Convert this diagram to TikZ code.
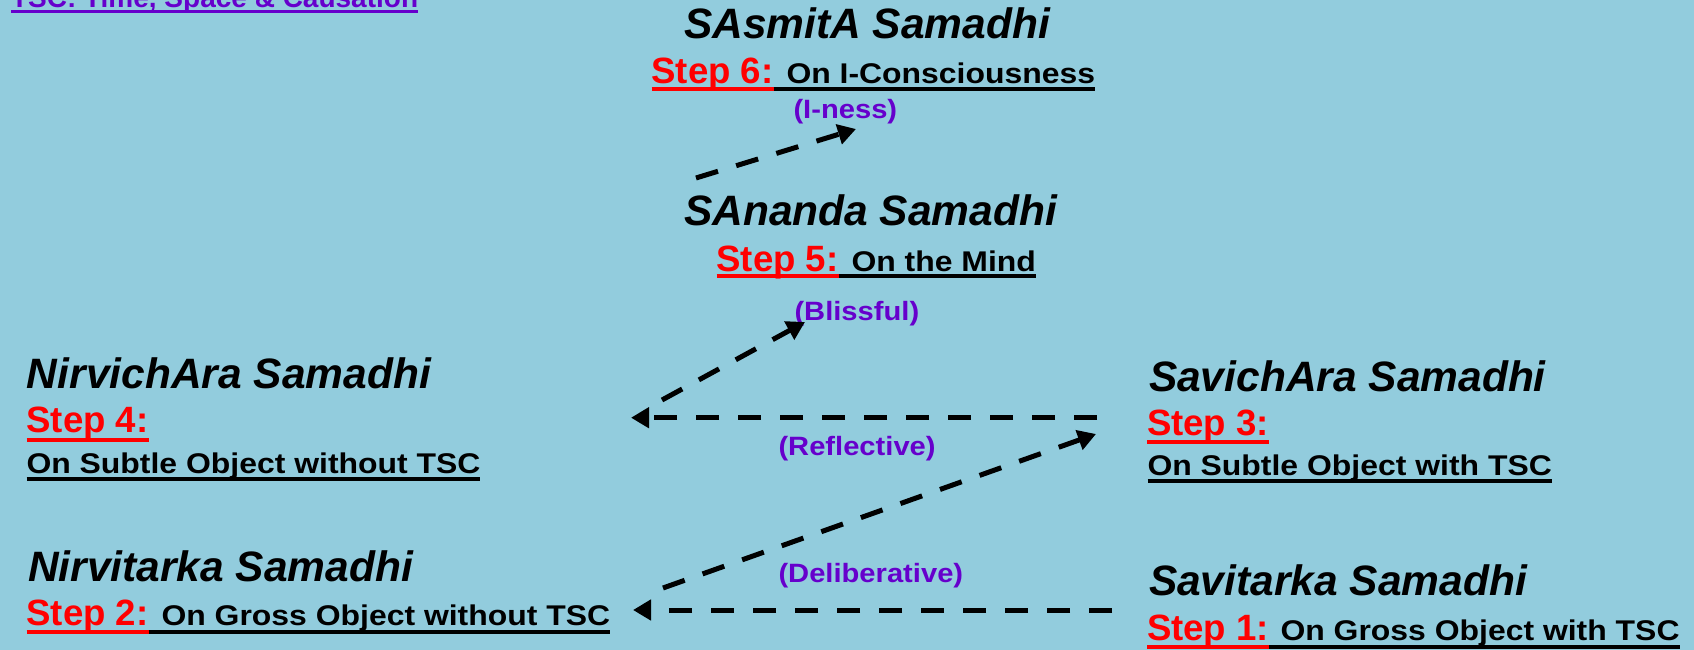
\documentclass[tikz,border=0pt]{standalone}
\usepackage{graphicx}
\usepackage{fontspec}
\setmainfont{Liberation Sans}
\usetikzlibrary{arrows.meta}
\definecolor{bgblue}{RGB}{146,204,221}
\definecolor{lblpurple}{RGB}{102,0,204}
\newcommand{\widetext}[1]{\scalebox{1.12}[1]{#1}}
\newcommand{\qualtext}[1]{\scalebox{1.1}[1]{#1}}
\tikzset{
  titletext/.style={anchor=base west, inner sep=0pt, outer sep=0pt, font=\fontsize{42.5}{50}\selectfont\bfseries\itshape},
  steptext/.style={anchor=base west, inner sep=0pt, outer sep=0pt, text=red, font=\fontsize{36.6}{44}\selectfont\bfseries},
  desctext/.style={anchor=base west, inner sep=0pt, outer sep=0pt, font=\fontsize{28.5}{34}\selectfont\bfseries},
  qualtxt/.style={anchor=base west, inner sep=0pt, outer sep=0pt, text=lblpurple, font=\fontsize{26.5}{32}\selectfont\bfseries},
  ulred/.style={draw=red, line width=4pt},
  ulblack/.style={draw=black, line width=4pt},
  flow/.style={draw=black, line width=5pt, dash pattern=on 23pt off 19pt, -{Triangle[length=18pt,width=20pt]}},
}
\begin{document}
\begin{tikzpicture}[x=1pt,y=-1pt]
\useasboundingbox (0,0) rectangle (1694,650);
\clip (0,0) rectangle (1694,650);
\fill[bgblue] (0,0) rectangle (1694,650);

% note at top left
\node[anchor=base west, inner sep=0pt, outer sep=0pt, text=lblpurple, font=\fontsize{28}{34}\selectfont\bfseries] (note) at (11,8) {TSC: Time, Space \& Causation};
\draw[draw=lblpurple, line width=3.3pt] ([yshift=-3.7pt]note.base west) -- ([yshift=-3.7pt]note.base east);

% Step 6
\node[titletext] (t6) at (684,39) {SAsmitA Samadhi};
\node[steptext] (s6) at (651.5,83.3) {Step 6:};
\node[desctext] (d6) at (786.5,83.3) {\widetext{On I-Consciousness}};
\draw[ulred] ([yshift=-6pt]s6.base west) -- ([yshift=-6pt]s6.base east);
\draw[ulblack] ([yshift=-6pt]s6.base east) -- ([yshift=-6pt]d6.base east);
\node[qualtxt] (q6) at (793.5,119) {\qualtext{(I-ness)}};

% Step 5
\node[titletext] (t5) at (684,225) {SAnanda Samadhi};
\node[steptext] (s5) at (716.5,271) {Step 5:};
\node[desctext] (d5) at (851.5,271) {\widetext{On the Mind}};
\draw[ulred] ([yshift=-5pt]s5.base west) -- ([yshift=-5pt]s5.base east);
\draw[ulblack] ([yshift=-5pt]s5.base east) -- ([yshift=-5pt]d5.base east);
\node[qualtxt] (q5) at (794.5,320) {\qualtext{(Blissful)}};

% Step 4
\node[titletext] (t4) at (27,388) {NirvichAra Samadhi};
\node[steptext] (s4) at (26.5,432.7) {Step 4:};
\draw[ulred] ([yshift=-7pt]s4.base west) -- ([yshift=-7pt]s4.base east);
\node[desctext] (d4) at (26.5,473) {\widetext{On Subtle Object without TSC}};
\draw[ulblack] ([yshift=-6pt]d4.base west) -- ([yshift=-6pt]d4.base east);

% Step 3
\node[titletext] (t3) at (1149,391) {SavichAra Samadhi};
\node[steptext] (s3) at (1147,435) {Step 3:};
\draw[ulred] ([yshift=-7pt]s3.base west) -- ([yshift=-7pt]s3.base east);
\node[desctext] (d3) at (1147.5,475) {\widetext{On Subtle Object with TSC}};
\draw[ulblack] ([yshift=-6pt]d3.base west) -- ([yshift=-6pt]d3.base east);

\node[qualtxt] (qR) at (778.5,455) {\qualtext{(Reflective)}};

% Step 2
\node[titletext] (t2) at (28,581) {Nirvitarka Samadhi};
\node[steptext] (s2) at (26.5,625) {Step 2:};
\node[desctext] (d2) at (161.5,625) {\widetext{On Gross Object without TSC}};
\draw[ulred] ([yshift=-6.7pt]s2.base west) -- ([yshift=-6.7pt]s2.base east);
\draw[ulblack] ([yshift=-6.7pt]s2.base east) -- ([yshift=-6.7pt]d2.base east);

% Step 1
\node[titletext] (t1) at (1149,595) {Savitarka Samadhi};
\node[steptext] (s1) at (1147,640) {Step 1:};
\node[desctext] (d1) at (1280.5,640) {\widetext{On Gross Object with TSC}};
\draw[ulred] ([yshift=-7pt]s1.base west) -- ([yshift=-7pt]s1.base east);
\draw[ulblack] ([yshift=-7pt]s1.base east) -- ([yshift=-7pt]d1.base east);

\node[qualtxt] (qD) at (778.5,582) {\qualtext{(Deliberative)}};

% connectors
\coordinate (oneA) at (1112,610);
\coordinate (oneB) at (633,610);
\coordinate (delA) at (663,588);
\coordinate (delB) at (1096,434);
\coordinate (refA) at (1097,417.7);
\coordinate (refB) at (631,417.7);
\coordinate (blsA) at (662,400);
\coordinate (blsB) at (805,322);
\coordinate (inA) at (696,178);
\coordinate (inB) at (856,129);
\draw[flow] (oneA) -- (oneB);
\draw[flow] (delA) -- (delB);
\draw[flow] (refA) -- (refB);
\draw[flow] (blsA) -- (blsB);
\draw[flow] (inA) -- (inB);
\end{tikzpicture}
\end{document}
